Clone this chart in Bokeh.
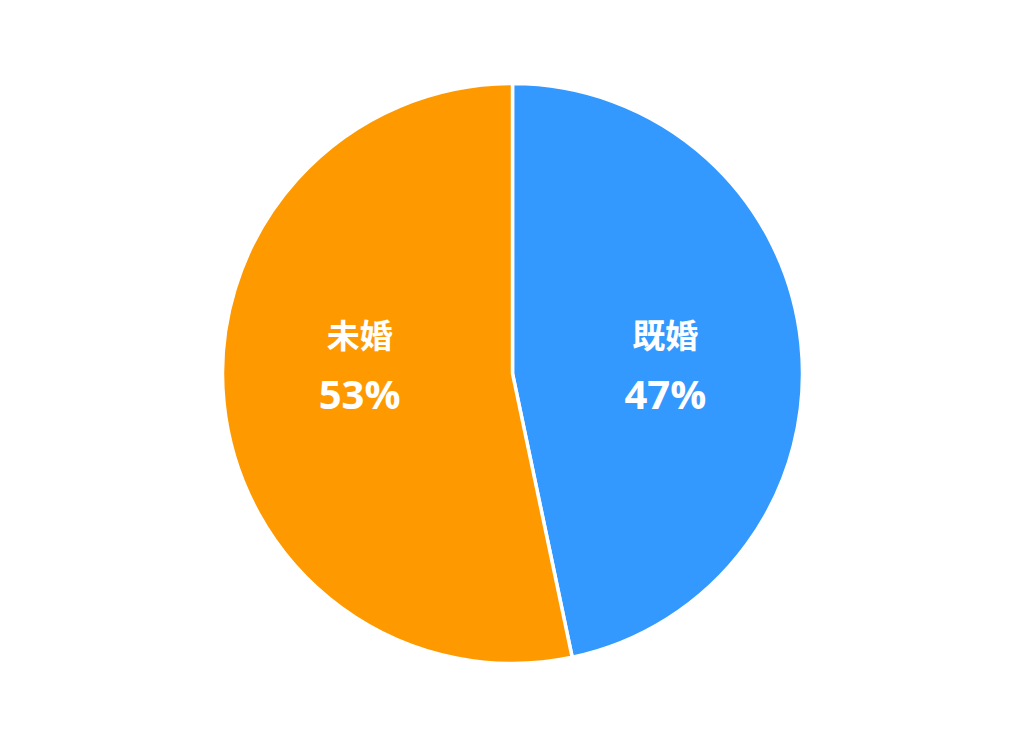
import math
from bokeh.plotting import figure
from bokeh.models import Range1d, ColumnDataSource
from bokeh.core.properties import value
from bokeh.embed import file_html
from bokeh.resources import INLINE

labels = ["既婚", "未婚"]
shares = [46.7, 53.3]
colors = ["#3399FF", "#FF9900"]

W, H = 1008, 730
cx, cy, r = 512, -373, 290

p = figure(width=W, height=H, output_backend="svg", toolbar_location=None,
           x_range=Range1d(0, W), y_range=Range1d(-H, 0),
           min_border=0, outline_line_color=None)
p.axis.visible = False
p.grid.visible = False
p.background_fill_color = "white"
p.border_fill_color = "white"

total = sum(shares)
starts, ends, mids = [], [], []
acc = 0.0
for s in shares:
    a0 = math.pi / 2 - 2 * math.pi * acc / total
    acc += s
    a1 = math.pi / 2 - 2 * math.pi * acc / total
    starts.append(a0)
    ends.append(a1)
    mids.append((a0 + a1) / 2)

src = ColumnDataSource(dict(start=starts, end=ends, color=colors))
p.wedge(x=cx, y=cy, radius=r, start_angle="start", end_angle="end",
        direction="clock", fill_color="color", line_color="white",
        line_width=3.5, source=src)

d = 0.53 * r
lx = [cx + d * math.cos(m) for m in mids]
ly = [cy + 6 for m in mids]
pct = [f"{round(s)}%" for s in shares]
lsrc = ColumnDataSource(dict(x=lx, y_name=[y + 34 for y in ly],
                             y_pct=[y - 26 for y in ly], name=labels, pct=pct))
p.text(x="x", y="y_name", text="name", source=lsrc, text_color="white",
       text_font=value("Noto Sans CJK JP"), text_font_style="bold",
       text_font_size="33px", text_align="center", text_baseline="middle")
p.text(x="x", y="y_pct", text="pct", source=lsrc, text_color="white",
       text_font=value("Open Sans"), text_font_style="bold",
       text_font_size="40px", text_align="center", text_baseline="middle")

open("out.html", "w").write(file_html(p, INLINE))
